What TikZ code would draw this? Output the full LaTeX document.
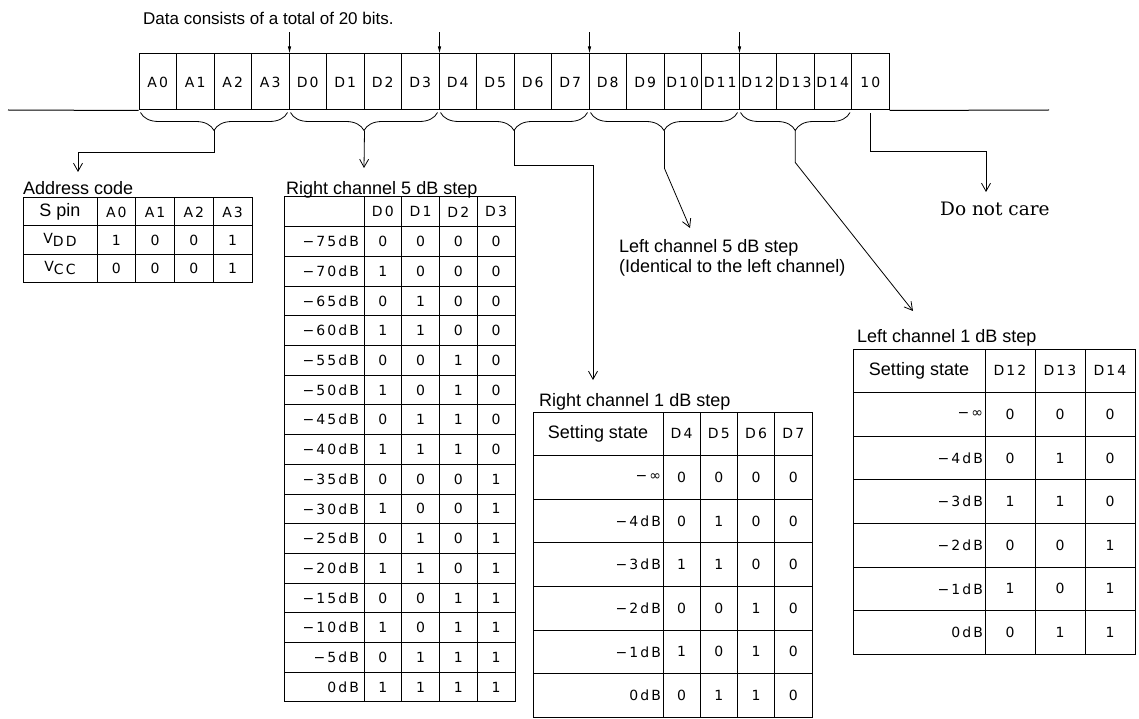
\documentclass[tikz,border=0pt]{standalone}
\usepackage{fontspec}
\setmainfont{Liberation Sans}
\newfontfamily\dotfont[LetterSpace=15]{DejaVu Sans}
\newfontfamily\schfont{DejaVu Serif}
\usetikzlibrary{arrows.meta,decorations.pathreplacing}

\newcommand\dotsz{\dotfont\fontsize{14}{14}\selectfont}
\newcommand\labsz{\fontsize{18}{18}\selectfont}

\tikzset{
  cell/.style={draw, line width=1pt, inner sep=0pt, font=\dotsz},
  rowlab/.style={cell, align=right, inner xsep=3pt},
  grp/.style={decorate, decoration={brace, mirror, amplitude=18pt}, line width=0.8pt},
  conn/.style={line width=0.8pt, -{Straight Barb[length=8pt,width=9pt]}},
  tick/.style={line width=0.8pt, -{Latex[length=7pt,width=3.5pt]}},
  title/.style={anchor=base west, inner sep=0pt, font=\labsz},
}

\begin{document}
\begin{tikzpicture}[x=1pt, y=-1pt]
\useasboundingbox (0,0) rectangle (1139,719);

% the 20 bit frame
\node[title, font=\fontsize{17}{17}\selectfont] (total) at (143,25) {Data consists of a total of 20 bits.};
\foreach \lab [count=\i from 0] in {A0,A1,A2,A3,D0,D1,D2,D3,D4,D5,D6,D7,D8,D9,D10,D11,D12,D13,D14,10}
  \node[cell, minimum width=37.5pt, minimum height=56pt] (bit\i) at ({157.75+37.5*\i},82) {\lab};
\coordinate (lineL) at (8,110);
\coordinate (lineR) at (1049,110);
\draw[line width=1pt] (lineL) -- (bit0.south west);
\draw[line width=1pt] (bit19.south east) -- (lineR);
\foreach \i in {3,7,11,15}
  \draw[tick] ([yshift=21pt]bit\i.north east) -- (bit\i.north east);

% groups
\draw[grp] ([xshift=2pt,yshift=-2pt]bit0.south west) -- ([xshift=-2pt,yshift=-2pt]bit3.south east);
\draw[grp] ([xshift=2pt,yshift=-2pt]bit4.south west) -- ([xshift=-2pt,yshift=-2pt]bit7.south east);
\draw[grp] ([xshift=2pt,yshift=-2pt]bit8.south west) -- ([xshift=-2pt,yshift=-2pt]bit11.south east);
\draw[grp] ([xshift=2pt,yshift=-2pt]bit12.south west) -- ([xshift=-2pt,yshift=-2pt]bit15.south east);
\draw[grp] ([xshift=2pt,yshift=-2pt]bit16.south west) -- ([xshift=-2pt,yshift=-2pt]bit18.south east);
\coordinate (tipA) at ([yshift=-20pt]bit1.south east);
\coordinate (tipB) at ([yshift=-20pt]bit5.south east);
\coordinate (tipC) at ([yshift=-20pt]bit9.south east);
\coordinate (tipD) at ([yshift=-20pt]bit13.south east);
\coordinate (tipE) at ([yshift=-20pt]bit17.south);

% address code
\node[title] (adrT) at (23,195) {Address code};
\node[cell, minimum width=74pt, minimum height=28pt, font=\labsz] (adr-0-0) at (60,212) {S pin};
\foreach \lab [count=\c] in {A0,A1,A2,A3}
  \node[cell, minimum width=38.75pt, minimum height=28pt] (adr-0-\c) at ({77.625+38.75*\c},212) {\lab};
\foreach \lab/\ba/\bb/\bc/\bd [count=\r] in {{\raisebox{3pt}{V}DD}/1/0/0/1, {\raisebox{3pt}{V}CC}/0/0/0/1} {
  \node[cell, minimum width=74pt, minimum height=28pt] (adr-\r-0) at (60,{212+28*\r}) {\lab};
  \foreach \b [count=\c] in {\ba,\bb,\bc,\bd}
    \node[cell, minimum width=38.75pt, minimum height=28pt] (adr-\r-\c) at ({77.625+38.75*\c},{212+28*\r}) {\b};
}

% right channel 5 dB step
\node[title] (r5T) at (286,195) {Right channel 5 dB step};
\node[cell, minimum width=80pt, minimum height=29.7pt] (r5-0-0) at (324,211.85) {};
\foreach \lab [count=\c] in {D0,D1,D2,D3}
  \node[cell, minimum width=37.75pt, minimum height=29.7pt] (r5-0-\c) at ({345.125+37.75*\c},211.85) {\lab};
\foreach \lab [count=\r] in {−75dB,−70dB,−65dB,−60dB,−55dB,−50dB,−45dB,−40dB,−35dB,−30dB,−25dB,−20dB,−15dB,−10dB,−5dB,0dB} {
  \node[rowlab, text width=70pt, inner xsep=5pt, minimum height=29.7pt] (r5-\r-0) at (324,{211.85+29.7*\r}) {\lab};
  \foreach \c in {1,...,4} {
    \pgfmathtruncatemacro\bit{mod(floor((\r-1)/2^(\c-1)),2)}
    \node[cell, minimum width=37.75pt, minimum height=29.7pt] (r5-\r-\c) at ({345.125+37.75*\c},{211.85+29.7*\r}) {\bit};
  }
}

% right channel 1 dB step
\node[title] (r1T) at (539,406) {Right channel 1 dB step};
\node[cell, minimum width=130pt, minimum height=43.6pt, font=\labsz] (r1-0-0) at (598,433.8) {Setting state};
\foreach \lab [count=\c] in {D4,D5,D6,D7}
  \node[cell, minimum width=37.25pt, minimum height=43.6pt] (r1-0-\c) at ({644.375+37.25*\c},433.8) {\lab};
\foreach \lab/\ba/\bb/\bc/\bd [count=\r] in {−∞/0/0/0/0, −4dB/0/1/0/0, −3dB/1/1/0/0, −2dB/0/0/1/0, −1dB/1/0/1/0, 0dB/0/1/1/0} {
  \node[rowlab, text width=126pt, inner xsep=2pt, minimum height=43.6pt] (r1-\r-0) at (598,{433.8+43.6*\r}) {\lab};
  \foreach \b [count=\c] in {\ba,\bb,\bc,\bd}
    \node[cell, minimum width=37.25pt, minimum height=43.6pt] (r1-\r-\c) at ({644.375+37.25*\c},{433.8+43.6*\r}) {\b};
}

% left channel 1 dB step
\node[title] (l1T) at (857,342) {Left channel 1 dB step};
\node[cell, minimum width=132pt, minimum height=43.6pt, font=\labsz] (l1-0-0) at (919,370.8) {Setting state};
\foreach \lab [count=\c] in {D12,D13,D14}
  \node[cell, minimum width=50pt, minimum height=43.6pt] (l1-0-\c) at ({960+50*\c},370.8) {\lab};
\foreach \lab/\ba/\bb/\bc [count=\r] in {−∞/0/0/0, −4dB/0/1/0, −3dB/1/1/0, −2dB/0/0/1, −1dB/1/0/1, 0dB/0/1/1} {
  \node[rowlab, text width=128pt, inner xsep=2pt, minimum height=43.6pt] (l1-\r-0) at (919,{370.8+43.6*\r}) {\lab};
  \foreach \b [count=\c] in {\ba,\bb,\bc}
    \node[cell, minimum width=50pt, minimum height=43.6pt] (l1-\r-\c) at ({960+50*\c},{370.8+43.6*\r}) {\b};
}

% left channel 5 dB step and unused bit
\node[title] (l5T) at (619,252) {Left channel 5 dB step};
\node[title] (l5S) at (619,272) {(Identical to the left channel)};
\node[anchor=base west, inner sep=0pt, font=\schfont\fontsize{18.5}{18.5}\selectfont] (dnc) at (940,215) {Do not care};

% pointers
\coordinate (adrIn) at (78,172);
\coordinate (r5In) at (364,168);
\coordinate (r1In) at (593,380);
\coordinate (l5In) at (690,228);
\coordinate (l1In) at (913,311);
\coordinate (dncIn) at (986,192);
\draw[conn] (tipA) |- ([yshift=20pt]adrIn) -- (adrIn);
\draw[conn] (tipB) -- (r5In);
\draw[conn] (tipC) -- ++(0,35) -| (r1In);
\draw[conn] (tipD) -- ++(0,38) -- (l5In);
\draw[conn] (tipE) -- ++(0,32) -- (l1In);
\draw[conn] ([yshift=-3pt]bit19.south) -- ++(0,38) -| (dncIn);
\end{tikzpicture}
\end{document}
